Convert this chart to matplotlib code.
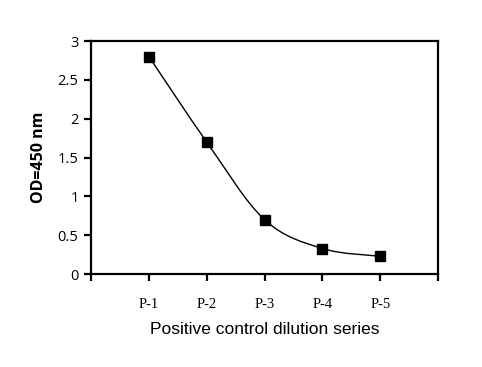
import numpy as np
import matplotlib
matplotlib.use('Agg')
import matplotlib.pyplot as plt
from matplotlib.path import Path
from matplotlib.patches import PathPatch

# Datos
labels = ['P-1', 'P-2', 'P-3', 'P-4', 'P-5']
od450 = [2.8, 1.7, 0.7, 0.33, 0.23]
y_ticks = [0, 0.5, 1, 1.5, 2, 2.5, 3]
y_tick_labels = ['0', '0.5', '1', '1.5', '2', '2.5', '3']


def smoothPath(x, y):
    # curva suavizada tipo Excel (Bezier cubica por tramos)
    pts = np.column_stack([x, y]).astype(float)
    n = len(pts)
    verts = [pts[0]]
    codes = [Path.MOVETO]
    for i in range(n - 1):
        p0 = pts[i - 1] if i > 0 else pts[i]
        p1 = pts[i]
        p2 = pts[i + 1]
        p3 = pts[i + 2] if i + 2 < n else pts[i + 1]
        c1 = p1 + (p2 - p0) / 6
        c2 = p2 - (p3 - p1) / 6
        verts += [c1, c2, p2]
        codes += [Path.CURVE4] * 3
    return Path(verts, codes)


fig = plt.figure(figsize=(4.82, 3.67), dpi=100)
ax = fig.add_axes([0.189, 0.253, 0.72, 0.635])

xpos = np.arange(1, len(labels) + 1)
ax.add_patch(PathPatch(smoothPath(xpos, od450), facecolor='none',
                       edgecolor='black', linewidth=1.0))
ax.plot(xpos, od450, linestyle='none', marker='s', markersize=7,
        color='black')

ax.set_xlim(0, len(labels) + 1)
ax.set_ylim(0, 3)
ax.set_xticks(np.arange(0, len(labels) + 2))
ax.set_xticklabels([''] + labels + [''], fontfamily='Liberation Serif',
                   fontsize=10.5)
ax.set_yticks(y_ticks)
ax.set_yticklabels(y_tick_labels, fontfamily='Open Sans', fontsize=10.5)

for s in ax.spines.values():
    s.set_linewidth(1.6)
ax.tick_params(axis='both', direction='out', length=5, width=1.6,
               colors='black')
ax.tick_params(axis='x', pad=12)
ax.tick_params(axis='y', pad=4)

ax.set_xlabel('Positive control dilution series', fontfamily='Liberation Sans',
              fontsize=12.5, labelpad=8)
ax.set_ylabel('OD=450 nm', fontfamily='Open Sans', fontweight='bold',
              fontsize=11.5, labelpad=8)

fig.savefig('out.png', dpi=100)
